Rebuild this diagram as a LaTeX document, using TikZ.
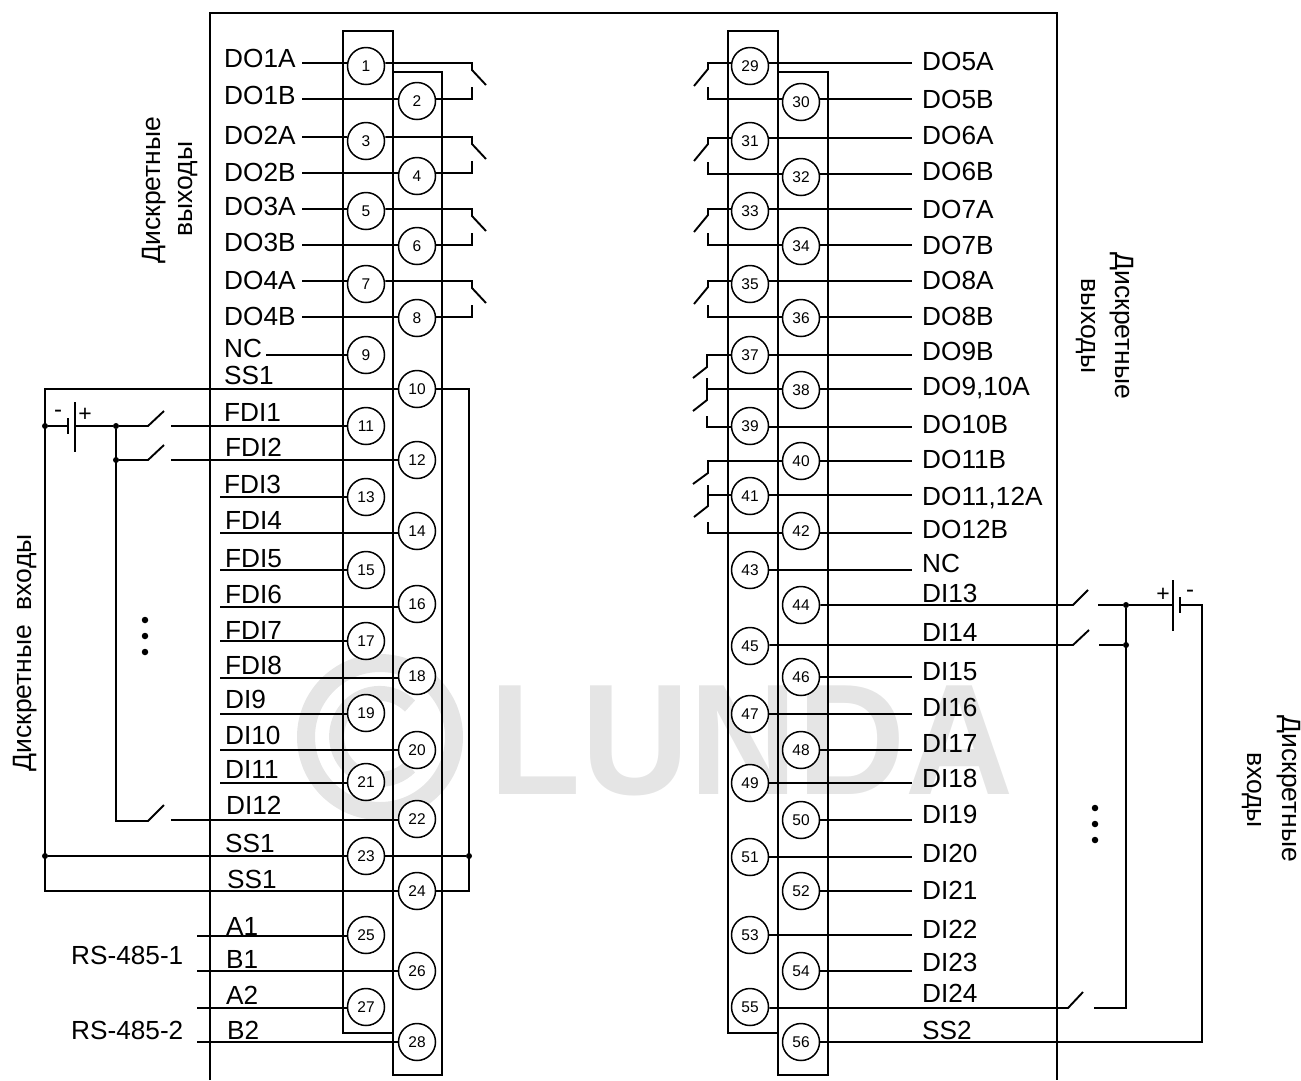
\documentclass[tikz,border=0pt]{standalone}
\usepackage{fontspec}
\setmainfont{Liberation Sans}
\definecolor{wmgray}{gray}{0.9}
\tikzset{
 pin/.style={circle,draw,fill=white,line width=1.5pt,minimum size=37pt,inner sep=0pt,font=\fontsize{15.5}{15.5}\selectfont},
 wire/.style={line width=1.9pt},
 block/.style={line width=2.6pt},
 sig/.style={anchor=base west,inner sep=0pt,font=\fontsize{26.2}{27}\selectfont},
 side/.style={inner sep=0pt,font=\fontsize{26.5}{27}\selectfont},
 dot/.style={circle,fill=black,minimum size=6pt,inner sep=0pt},
 bigdot/.style={circle,fill=black,minimum size=6.5pt,inner sep=0pt}
}
\begin{document}
\begin{tikzpicture}[x=1pt,y=-1pt]
 \useasboundingbox (0,0) rectangle (1301,1080);

 % watermark
 \draw[wmgray,line width=18pt] (380,737) circle (74);
 \draw[wmgray,line width=15pt] (410,706) arc (-45:-315:43);
 \node[text=wmgray,inner sep=0pt,anchor=base west,font=\bfseries\fontsize{158}{158}\selectfont] (logo) at (489.5,794) {\scalebox{.948}[1]{LUNDA}};

 % housing and terminal blocks
 \draw[line width=2pt] (210,1080) -- (210,13) -- (1057,13) -- (1057,1080);
 \draw[block] (343,31) rectangle (393,1033);
 \draw[block] (393,72) rectangle (442,1075);
 \draw[block] (728,31) rectangle (778,1033);
 \draw[block] (778,72) rectangle (828,1075);

 % terminals
 \foreach \n/\y in {1/66,3/141,5/211,7/284,9/355,11/426,13/497,15/570,17/641,19/713,21/782,23/856,25/935,27/1007}
  \node[pin] (c\n) at (366,\y) {\n};
 \foreach \n/\y in {2/101,4/176,6/246,8/318,10/389,12/460,14/531,16/604,18/676,20/750,22/819,24/891,26/971,28/1042}
  \node[pin] (c\n) at (417,\y) {\n};
 \foreach \n/\y in {29/66,31/141,33/211,35/284,37/355,39/426,41/496,43/570,45/646,47/714,49/783,51/857,53/935,55/1007}
  \node[pin] (c\n) at (750,\y) {\n};
 \foreach \n/\y in {30/102,32/177,34/246,36/318,38/390,40/461,42/531,44/605,46/677,48/750,50/820,52/891,54/971,56/1042}
  \node[pin] (c\n) at (801,\y) {\n};

 % left wires
 \foreach \n/\x/\y in {1/302/63,2/302/99,3/302/137,4/302/173,5/302/209,6/302/245,7/302/281,8/302/317,9/266/355,11/171/426,12/171/460,13/220/497,14/220/533,15/220/570,16/220/607,17/220/641,18/220/678,19/220/714,20/220/750,21/220/783,22/171/820,25/197/936,26/197/971,27/197/1008,28/197/1042} {
  \coordinate (w\n) at (\x,\y);
  \draw[wire] (w\n) -- (w\n -| c\n.west);
 }
 % right wires
 \foreach \n/\y in {29/63,30/99,31/138,32/174,33/209,34/245,35/281,36/317,37/355,38/389,39/427,40/461,41/495,42/533,43/570,46/677,47/714,48/750,49/783,50/820,51/857,52/891,53/935,54/971} {
  \coordinate (r\n) at (912,\y);
  \draw[wire] (c\n.east |- r\n) -- (r\n);
 }

 % output contacts
 \foreach \a/\b/\ya/\yb in {1/2/63/99,3/4/137/173,5/6/209/245,7/8/281/317} {
  \draw[wire] (c\a.east |- 0,\ya) -- (472,\ya) -- ++(0,7) -- ++(14,15);
  \draw[wire] (c\b.east |- 0,\yb) -- (472,\yb) -- ++(0,-12);
 }
 \foreach \a/\b/\ya/\yb in {29/30/63/99,31/32/138/174,33/34/209/245,35/36/281/317} {
  \draw[wire] (c\a.west |- 0,\ya) -- (708,\ya) -- ++(0,6) -- ++(-14,17);
  \draw[wire] (c\b.west |- 0,\yb) -- (708,\yb) -- ++(0,-12);
 }
 \draw[wire] (c37.west) -- (707,355) -- (707,367) -- (693,378);
 \draw[wire] (c38.west |- 0,389) -- (707,389);
 \draw[wire] (707,378) -- (707,400) -- (693,411);
 \draw[wire] (c39.west |- 0,427) -- (707,427) -- (707,416);
 \draw[wire] (c40.west) -- (708,461) -- (708,473) -- (693,484);
 \draw[wire] (c41.west |- 0,495) -- (708,495);
 \draw[wire] (708,485) -- (708,506) -- (694,517);
 \draw[wire] (c42.west |- 0,533) -- (708,533) -- (708,522);

 % left supply
 \node[dot] (j1) at (45,426) {};
 \node[dot] (j2) at (116,426) {};
 \node[dot] (j3) at (116,460) {};
 \node[dot] (j4) at (45,856) {};
 \node[dot] (j5) at (469,856) {};
 \draw[wire] (c10.west) -- (45,389) -- (45,891) -- (c24.west);
 \draw[wire] (c10.east) -- (469,389) -- (469,891) -- (c24.east);
 \draw[wire] (j4) -- (c23.west);
 \draw[wire] (c23.east) -- (j5);
 \draw[wire] (j1) -- (68,426);
 \draw[wire] (68,418) -- (68,434);
 \draw[wire] (75,402) -- (75,452);
 \draw[wire] (75,426) -- (j2) -- (148,426) -- (164,411);
 \draw[wire] (j3) -- (148,460) -- (164,445);
 \draw[wire] (j2) -- (116,821) -- (148,821) -- (164,805);
 \node[font=\fontsize{24}{24}\selectfont,inner sep=0pt] (minus1) at (58,414) {-};
 \node[font=\fontsize{23}{23}\selectfont,inner sep=0pt] (plus1) at (85,415) {+};

 % right supply
 \node[dot] (j6) at (1126,605) {};
 \node[dot] (j7) at (1126,645) {};
 \draw[wire] (c44.east) -- (1073,605) -- (1088,590);
 \draw[wire] (c45.east |- 0,645) -- (1073,645) -- (1089,630);
 \draw[wire] (c55.east |- 0,1008) -- (1068,1008) -- (1083,992);
 \draw[wire] (1098,605) -- (j6) -- (1173,605);
 \draw[wire] (1099,645) -- (j7);
 \draw[wire] (j6) -- (1126,1008) -- (1094,1008);
 \draw[wire] (1173,580) -- (1173,631);
 \draw[wire] (1180,597) -- (1180,613);
 \draw[wire] (1180,605) -- (1202,605) -- (1202,1042) -- (c56.east);
 \node[font=\fontsize{23}{23}\selectfont,inner sep=0pt] (plus2) at (1163,595) {+};
 \node[font=\fontsize{24}{24}\selectfont,inner sep=0pt] (minus2) at (1190,594) {-};

 % signal names
 \foreach \t/\x/\y [count=\i] in {DO1A/224/67,DO1B/224/104,DO2A/224/144,DO2B/224/181,DO3A/224/215,DO3B/224/251,DO4A/224/289,DO4B/224/325,NC/224/357,SS1/224/384,FDI1/224/421,FDI2/225/456,FDI3/224/493,FDI4/225/529,FDI5/225/567,FDI6/225/603,FDI7/225/639,FDI8/225/674,DI9/225/708,DI10/225/744,DI11/225/778,DI12/226/814,SS1/225/852,SS1/227/888,A1/226/935,B1/226/968,A2/226/1004,B2/227/1039}
  \node[sig] (ls\i) at (\x,\y) {\t};
 \foreach \t/\y [count=\i] in {DO5A/70,DO5B/108,DO6A/144,DO6B/180,DO7A/218,DO7B/254,DO8A/289,DO8B/325,DO9B/360,{DO9,10A}/395,DO10B/433,DO11B/468,{DO11,12A}/505,DO12B/538,NC/572,DI13/602,DI14/641,DI15/680,DI16/716,DI17/752,DI18/787,DI19/823,DI20/862,DI21/899,DI22/938,DI23/971,DI24/1002,SS2/1039}
  \node[sig] (rs\i) at (922,\y) {\t};
 \node[sig] (rs1a) at (71,964) {RS-485-1};
 \node[sig] (rs2a) at (71,1039) {RS-485-2};

 % group captions
 \node[side,rotate=90] (cap1) at (154,190) {Дискретные};
 \node[side,rotate=90] (cap2) at (188,189) {выходы};
 \node[side,rotate=90] (cap3) at (25,653) {Дискретные\ \ входы};
 \node[side,rotate=-90] (cap4) at (1122,326) {Дискретные};
 \node[side,rotate=-90] (cap5) at (1086,326) {выходы};
 \node[side,rotate=-90] (cap6) at (1289,789) {Дискретные};
 \node[side,rotate=-90] (cap7) at (1252,790) {входы};

 % ellipsis marks
 \foreach \y [count=\i] in {620,636,652} \node[bigdot] (ld\i) at (145,\y) {};
 \foreach \y [count=\i] in {808,824,840} \node[bigdot] (rd\i) at (1095,\y) {};
\end{tikzpicture}
\end{document}
